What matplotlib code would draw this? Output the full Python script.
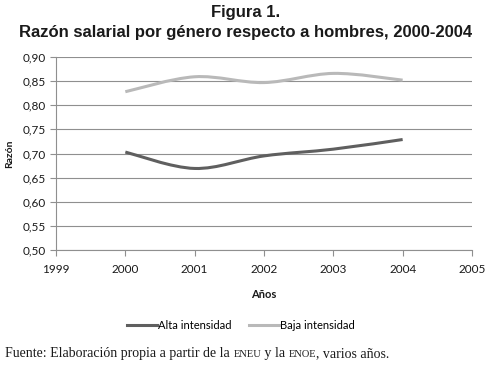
import numpy as np
import matplotlib
matplotlib.use("Agg")
import matplotlib.pyplot as plt
from matplotlib.path import Path
from matplotlib.patches import PathPatch
from matplotlib.lines import Line2D

# DATA
years = [2000, 2001, 2002, 2003, 2004]
alta = [0.703, 0.669, 0.695, 0.709, 0.729]
baja = [0.828, 0.859, 0.847, 0.866, 0.852]
series_names = ["Alta intensidad", "Baja intensidad"]
series_colors = ["#5f5f5f", "#b9b9b9"]
yticks = [0.50, 0.55, 0.60, 0.65, 0.70, 0.75, 0.80, 0.85, 0.90]
xticks = [1999, 2000, 2001, 2002, 2003, 2004, 2005]


def smooth_path(x, y):
    # Excel-like smoothed line: Catmull-Rom segments as cubic Bezier
    pts = np.column_stack([x, y]).astype(float)
    n = len(pts)
    verts = [pts[0]]
    codes = [Path.MOVETO]
    for i in range(n - 1):
        p0 = pts[i - 1] if i > 0 else pts[i]
        p1 = pts[i]
        p2 = pts[i + 1]
        p3 = pts[i + 2] if i + 2 < n else pts[i + 1]
        c1 = p1 + (p2 - p0) / 6
        c2 = p2 - (p3 - p1) / 6
        verts += [c1, c2, p2]
        codes += [Path.CURVE4] * 3
    return Path(verts, codes)


plt.rcParams["font.family"] = ["Lato", "DejaVu Sans"]

fig = plt.figure(figsize=(4.92, 3.66), dpi=100)
ax = fig.add_axes([0.1138, 0.3169, 0.8455, 0.5274])

for vals, col in zip([alta, baja], series_colors):
    ax.add_patch(PathPatch(smooth_path(years, vals), facecolor="none",
                           edgecolor=col, lw=2.2, capstyle="butt"))

ax.set_xlim(1999, 2005)
ax.set_ylim(0.50, 0.90)
ax.set_xticks(xticks)
ax.set_yticks(yticks)
ax.set_yticklabels([f"{v:.2f}".replace(".", ",") for v in yticks])
ax.yaxis.grid(True, color="#8f8f8f", lw=0.8)
ax.set_axisbelow(True)
for s in ["top", "right"]:
    ax.spines[s].set_visible(False)
for s in ["left", "bottom"]:
    ax.spines[s].set_color("#8f8f8f")
    ax.spines[s].set_linewidth(0.8)
ax.tick_params(colors="#8f8f8f", labelcolor="#1a1a1a", labelsize=8.5,
               length=4, width=0.8)
ax.tick_params(axis="x", pad=6)

ax.set_ylabel("Razón", fontsize=7.5, fontweight="bold", labelpad=6, color="#1a1a1a")
ax.set_xlabel("Años", fontsize=8, fontweight="bold", labelpad=10, color="#1a1a1a")

fig.text(0.5, 1 - 12 / 366, "Figura 1.", ha="center", va="center",
         family="Liberation Sans", fontweight="bold", fontsize=12, color="#1a1a1a")
fig.text(0.5, 1 - 32 / 366, "Razón salarial por género respecto a hombres, 2000-2004",
         ha="center", va="center", family="Liberation Sans",
         fontweight="bold", fontsize=12, color="#1a1a1a")

handles = [Line2D([], [], color=c, lw=2.2) for c in series_colors]
fig.legend(handles, series_names, loc="center", bbox_to_anchor=(0.49, 0.111),
           ncol=2, frameon=False, fontsize=8, handlelength=2.7,
           handletextpad=0.1, columnspacing=1.6)

# footer with small caps pieces
pieces = [("Fuente: Elaboración propia a partir de la ", 10),
          ("ENEU", 7.5), (" y la ", 10), ("ENOE", 7.5), (", varios años.", 10)]
fig.canvas.draw()
renderer = fig.canvas.get_renderer()
x = 5
for txt, size in pieces:
    t = fig.text(x / 492, 1 - 357 / 366, txt, ha="left", va="baseline",
                 family="Liberation Serif", fontsize=size, color="#1a1a1a")
    bb = t.get_window_extent(renderer)
    x += bb.width

fig.savefig("out.png", dpi=100)
